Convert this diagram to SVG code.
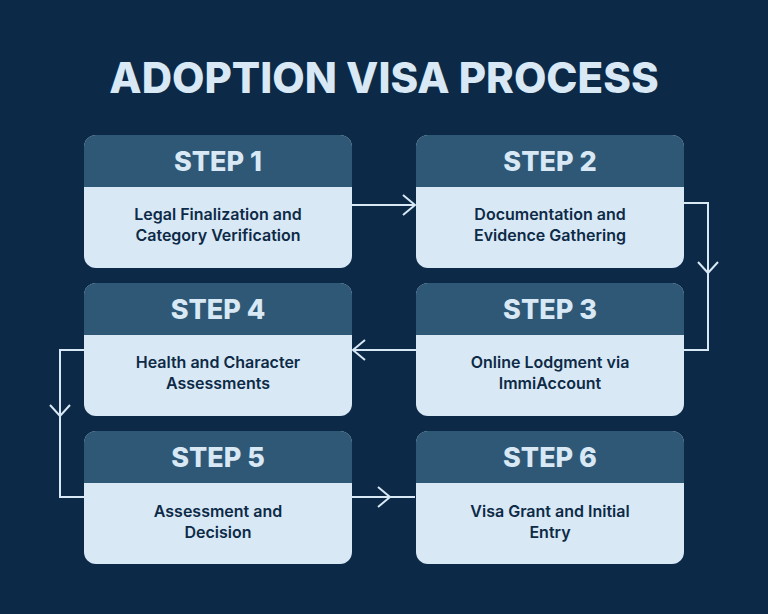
<svg xmlns="http://www.w3.org/2000/svg" width="768" height="614" viewBox="0 0 768 614">
<style>
.hd{fill:#2f5877}
.bd{fill:#d8e8f5}
.st{font-family:Inter,"Liberation Sans",sans-serif;font-weight:800;font-size:27px;fill:#d8e8f5;text-anchor:middle}
.tx{font-family:Inter,"Liberation Sans",sans-serif;font-weight:600;font-size:16px;fill:#0d2a47;text-anchor:middle}
.ln{fill:none;stroke:#d8e8f5;stroke-width:2}
</style>
<defs>
<g id="card">
<rect class="bd" x="0" y="0" width="268" height="133" rx="12"/>
<path class="hd" d="M0 12 A12 12 0 0 1 12 0 H256 A12 12 0 0 1 268 12 V52 H0 Z"/>
</g>
</defs>
<rect width="768" height="614" fill="#0c2a47"/>
<text x="384" y="93" font-family="Inter,'Liberation Sans',sans-serif" font-weight="800" font-size="42" fill="#d8e8f5" text-anchor="middle">ADOPTION VISA PROCESS</text>
<g id="connectors" class="ln">
<path d="M352 205 H415"/><path d="M403 195 L415 205 L403 215"/>
<path d="M684 203 H708 V350 H684"/><path d="M698 262 L708 273 L718 262"/>
<path d="M416 350 H353"/><path d="M365 340 L353 350 L365 360"/>
<path d="M84 350 H60 V497 H84"/><path d="M50 405 L60 416 L70 405"/>
<path d="M352 497 H415"/><path d="M378 487 L390 497 L378 507"/>
</g>
<g id="step1"><use href="#card" x="84" y="135"/><text class="st" x="218" y="171">STEP 1</text><text class="tx" x="218" y="220">Legal Finalization and</text><text class="tx" x="218" y="241">Category Verification</text></g>
<g id="step2"><use href="#card" x="416" y="135"/><text class="st" x="550" y="171">STEP 2</text><text class="tx" x="550" y="220">Documentation and</text><text class="tx" x="550" y="241">Evidence Gathering</text></g>
<g id="step4"><use href="#card" x="84" y="283"/><text class="st" x="218" y="319">STEP 4</text><text class="tx" x="218" y="368">Health and Character</text><text class="tx" x="218" y="389">Assessments</text></g>
<g id="step3"><use href="#card" x="416" y="283"/><text class="st" x="550" y="319">STEP 3</text><text class="tx" x="550" y="368">Online Lodgment via</text><text class="tx" x="550" y="389">ImmiAccount</text></g>
<g id="step5"><use href="#card" x="84" y="431"/><text class="st" x="218" y="467">STEP 5</text><text class="tx" x="218" y="517">Assessment and</text><text class="tx" x="218" y="538">Decision</text></g>
<g id="step6"><use href="#card" x="416" y="431"/><text class="st" x="550" y="467">STEP 6</text><text class="tx" x="550" y="517">Visa Grant and Initial</text><text class="tx" x="550" y="538">Entry</text></g>
</svg>
